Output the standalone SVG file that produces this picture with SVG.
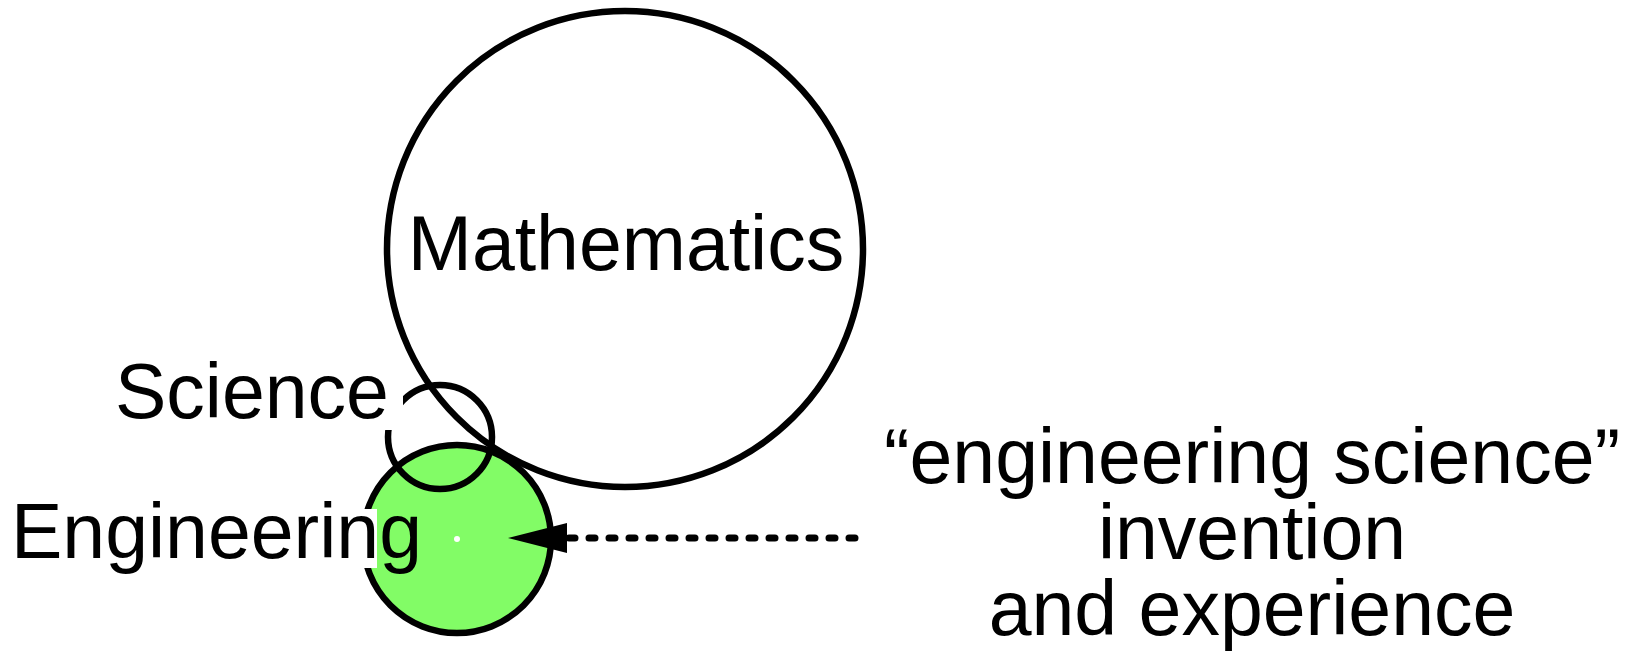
<svg xmlns="http://www.w3.org/2000/svg" width="1630" height="652" viewBox="0 0 1630 652">
<style>
.lbl{font-family:"Liberation Sans",Arial,sans-serif;font-size:77px;fill:#000}
.ring{fill:none;stroke:#000;stroke-width:6.5}
</style>
<defs>
<marker id="ah" markerUnits="userSpaceOnUse" markerWidth="60" markerHeight="32" viewBox="0 0 60 32" refX="0" refY="16" orient="auto">
<path d="M0,1 L59,16 L0,31 Z" fill="#000"/>
</marker>
</defs>
<rect width="1630" height="652" fill="#fff"/>
<g id="engineering">
<circle cx="457" cy="539" r="94" fill="#82fc66" stroke="#000" stroke-width="6.5"/>
<circle cx="457" cy="539" r="3" fill="#fff"/>
</g>
<g id="mathematics">
<circle class="ring" cx="625" cy="249" r="238"/>
<text class="lbl" x="626" y="270" text-anchor="middle">Mathematics</text>
</g>
<g id="science">
<circle class="ring" cx="440" cy="437" r="52"/>
</g>
<g id="science-label">
<rect x="110" y="364" width="293" height="66" fill="#fff"/>
<text class="lbl" x="115" y="418">Science</text>
</g>
<g id="engineering-label">
<rect x="8" y="509" width="369" height="59" fill="#fff"/>
<text class="lbl" x="11" y="558">Engineering</text>
</g>
<g id="connectors">
<line x1="855" y1="538" x2="567" y2="538" stroke="#000" stroke-width="7" stroke-linecap="round" stroke-dasharray="6 14" marker-end="url(#ah)"/>
</g>
<g id="note">
<text class="lbl" x="1252" y="483" text-anchor="middle">“engineering science”</text>
<text class="lbl" x="1252" y="559" text-anchor="middle">invention</text>
<text class="lbl" x="1252" y="635" text-anchor="middle">and experience</text>
</g>
</svg>
